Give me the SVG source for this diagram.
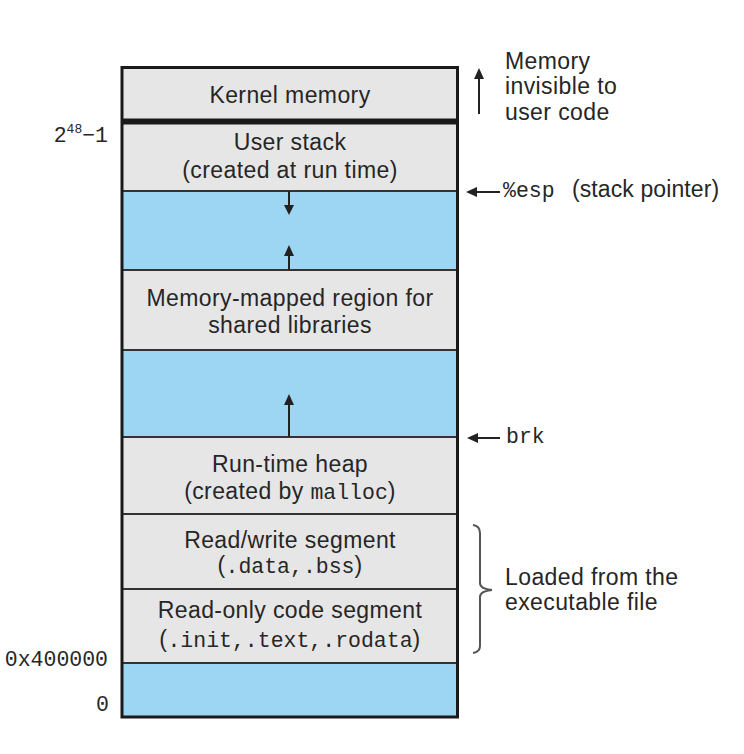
<svg xmlns="http://www.w3.org/2000/svg" width="744" height="754" viewBox="0 0 744 754">
<style>
.sans{font-family:"Liberation Sans",Arial,sans-serif;font-size:23px;fill:#262626;letter-spacing:0.4px}
.mono{font-family:"Liberation Mono","Courier New",monospace;font-size:21.5px;fill:#262626;letter-spacing:0}
.seg{fill:#e6e6e6}
.free{fill:#9dd6f2}
.sep{stroke:#333;stroke-width:2;fill:none}
.line{stroke:#222;stroke-width:2;fill:none}
.head{fill:#222}
</style>
<rect width="744" height="754" fill="#fff"/>
<g id="kernel">
<rect class="seg" x="122" y="67.5" width="335.5" height="54"/>
<text class="sans" x="290" y="103" text-anchor="middle">Kernel memory</text>
</g>
<g id="user-stack">
<rect class="seg" x="122" y="121.5" width="335.5" height="69.5"/>
<text class="sans" x="290" y="150" text-anchor="middle">User stack</text>
<text class="sans" x="290" y="178" text-anchor="middle">(created at run time)</text>
</g>
<g id="free1"><rect class="free" x="122" y="191" width="335.5" height="79"/></g>
<g id="mmap">
<rect class="seg" x="122" y="270" width="335.5" height="80"/>
<text class="sans" x="290" y="306" text-anchor="middle">Memory-mapped region for</text>
<text class="sans" x="290" y="333" text-anchor="middle">shared libraries</text>
</g>
<g id="free2"><rect class="free" x="122" y="350" width="335.5" height="87"/></g>
<g id="heap">
<rect class="seg" x="122" y="437" width="335.5" height="77"/>
<text class="sans" x="290" y="472" text-anchor="middle">Run-time heap</text>
<text class="sans" x="290" y="499" text-anchor="middle">(created by <tspan class="mono">malloc</tspan>)</text>
</g>
<g id="rw">
<rect class="seg" x="122" y="514" width="335.5" height="75"/>
<text class="sans" x="290" y="548" text-anchor="middle">Read/write segment</text>
<text class="sans" x="290" y="573" text-anchor="middle">(<tspan class="mono">.data,.bss</tspan>)</text>
</g>
<g id="ro">
<rect class="seg" x="122" y="589" width="335.5" height="74"/>
<text class="sans" x="290" y="618" text-anchor="middle">Read-only code segment</text>
<text class="sans" x="290" y="647" text-anchor="middle">(<tspan class="mono">.init,.text,.rodata</tspan>)</text>
</g>
<g id="free3"><rect class="free" x="122" y="663" width="335.5" height="54"/></g>
<g id="separators">
<line class="sep" x1="122" y1="191" x2="457.5" y2="191"/>
<line class="sep" x1="122" y1="270" x2="457.5" y2="270"/>
<line class="sep" x1="122" y1="350" x2="457.5" y2="350"/>
<line class="sep" x1="122" y1="437" x2="457.5" y2="437"/>
<line class="sep" x1="122" y1="514" x2="457.5" y2="514"/>
<line class="sep" x1="122" y1="589" x2="457.5" y2="589"/>
<line class="sep" x1="122" y1="663" x2="457.5" y2="663"/>
<line x1="122" y1="121.5" x2="457.5" y2="121.5" stroke="#1a1a1a" stroke-width="6"/>
<rect x="122" y="67.5" width="335.5" height="649.5" fill="none" stroke="#1a1a1a" stroke-width="3"/>
</g>
<g id="connectors">
<line class="line" x1="289" y1="191" x2="289" y2="206"/>
<polygon class="head" points="284,205 294,205 289,215"/>
<line class="line" x1="289" y1="255" x2="289" y2="270"/>
<polygon class="head" points="284,256 294,256 289,245"/>
<line class="line" x1="289" y1="404" x2="289" y2="437"/>
<polygon class="head" points="284,405 294,405 289,394"/>
<line class="line" x1="479" y1="78" x2="479" y2="114"/>
<polygon class="head" points="474,79 484,79 479,68"/>
<line class="line" x1="476" y1="192" x2="500" y2="192"/>
<polygon class="head" points="477,187 477,197 466,192"/>
<line class="line" x1="477" y1="438" x2="500" y2="438"/>
<polygon class="head" points="478,433 478,443 467,438"/>
<path d="M473,525 Q480,526 480,533 L480,583 Q480,589 492,590 Q480,591 480,597 L480,646 Q480,652 473,653" stroke="#555" stroke-width="2" fill="none"/>
</g>
<g id="labels">
<text class="sans" x="505" y="68.5">Memory</text>
<text class="sans" x="505" y="94">invisible to</text>
<text class="sans" x="505" y="119.5">user code</text>
<text class="mono" x="503" y="197">%esp</text>
<text class="sans" x="572" y="197" style="letter-spacing:0.1px">(stack pointer)</text>
<text class="mono" x="506" y="443">brk</text>
<text class="sans" x="505" y="585">Loaded from the</text>
<text class="sans" x="505" y="610">executable file</text>
<text class="mono" x="108" y="142" text-anchor="end">2<tspan font-size="13" dy="-9">48</tspan><tspan dy="9">−1</tspan></text>
<text class="mono" x="108" y="666" text-anchor="end">0x400000</text>
<text class="mono" x="109" y="711" text-anchor="end">0</text>
</g>
</svg>
